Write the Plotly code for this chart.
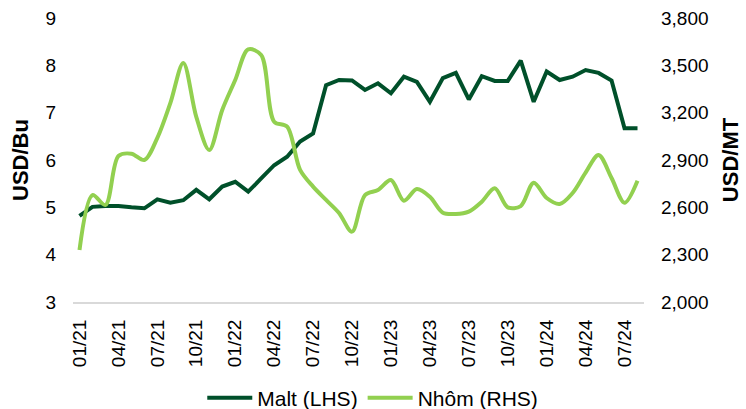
import plotly.graph_objects as go

months = [f"{m:02d}/{y}" for y in (21, 22, 23, 24) for m in range(1, 13)][:44]

malt = [4.82, 5.01, 5.03, 5.03, 5.00, 4.98, 5.17, 5.10, 5.15, 5.37,
        5.17, 5.44, 5.54, 5.33, 5.61, 5.89, 6.07, 6.39, 6.56, 7.58,
        7.69, 7.68, 7.48, 7.62, 7.41, 7.76, 7.65, 7.23, 7.73, 7.84,
        7.28, 7.77, 7.67, 7.67, 8.10, 7.23, 7.87, 7.69, 7.76, 7.90,
        7.84, 7.68, 6.67, 6.67]

nhom = [2330, 2678, 2615, 2925, 2940, 2900, 3040, 3260, 3515, 3173,
        2963, 3217, 3407, 3601, 3565, 3143, 3111, 2837, 2731, 2647,
        2564, 2446, 2678, 2710, 2773, 2642, 2716, 2667, 2566, 2558,
        2573, 2636, 2721, 2600, 2608, 2756, 2659, 2621, 2691, 2820,
        2932, 2786, 2629, 2769]

tick_labels = months[::3]

left_ticks = [3, 4, 5, 6, 7, 8, 9]
right_ticks = [2000, 2300, 2600, 2900, 3200, 3500, 3800]

DARK = "#00502A"
LIGHT = "#92D050"
FONT = "Liberation Sans, Arial, sans-serif"

fig = go.Figure()
fig.add_trace(go.Scatter(x=months, y=malt, name="Malt (LHS)", mode="lines",
                         line=dict(color=DARK, width=4), yaxis="y"))
fig.add_trace(go.Scatter(x=months, y=nhom, name="Nhôm (RHS)", mode="lines",
                         line=dict(color=LIGHT, width=4, shape="spline", smoothing=0.9),
                         yaxis="y2"))

fig.update_layout(
    width=746, height=409,
    margin=dict(l=73, r=102, t=18, b=107, autoexpand=False),
    paper_bgcolor="white", plot_bgcolor="white",
    font=dict(family=FONT, size=19, color="#000000"),
    showlegend=True,
    legend=dict(orientation="h", x=0.525, xanchor="center",
                y=-0.338, yanchor="middle", itemwidth=45,
                font=dict(size=21), tracegroupgap=0),
    xaxis=dict(type="category", categoryorder="array", categoryarray=months,
               range=[-0.5, 43.5], tickmode="array", tickvals=tick_labels,
               ticktext=tick_labels, tickangle=-90, showgrid=False,
               showline=True, linecolor="#D9D9D9", linewidth=2,
               ticks="", ticklabelstandoff=8, tickfont=dict(size=19),
               automargin=False),
    yaxis=dict(range=[3, 9], tickvals=left_ticks, showgrid=False, zeroline=False,
               showline=False, ticks="", ticklabelstandoff=16, automargin=False,
               title=dict(text="<b>USD/Bu</b>", standoff=10, font=dict(size=22))),
    yaxis2=dict(range=[2000, 3800], tickvals=right_ticks, overlaying="y", side="right",
                showgrid=False, zeroline=False, showline=False, ticks="",
                tickformat=",d", ticklabelstandoff=16, automargin=False,
                title=dict(text="<b>USD/MT</b>", standoff=15, font=dict(size=22))),
)

fig.write_html("out.html", config={"displayModeBar": False},
               post_script="document.body.style.margin='0';document.body.style.padding='0';")
